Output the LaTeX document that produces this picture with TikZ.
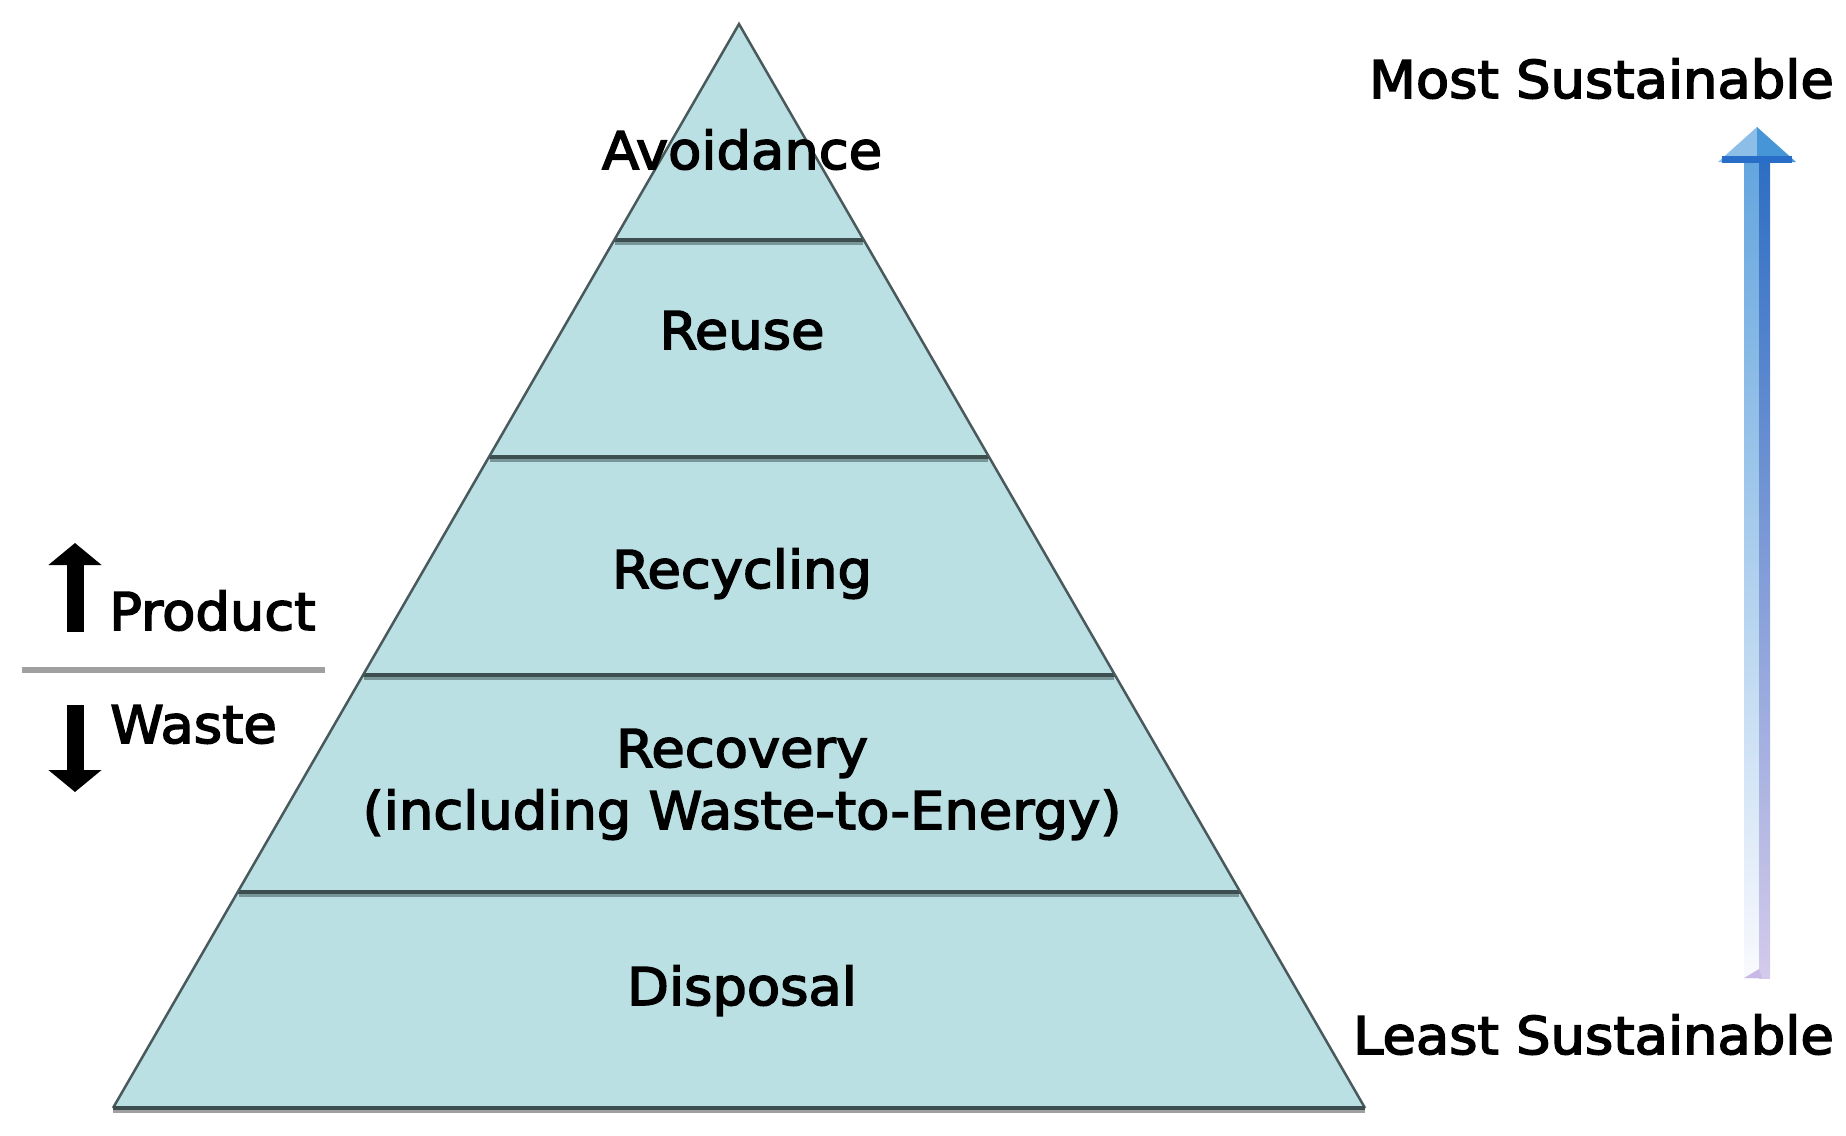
\documentclass[tikz,border=0pt]{standalone}
\usepackage{fontspec}
\setmainfont{DejaVu Sans}[FakeStretch=1.045,FakeBold=3]
\usetikzlibrary{calc,arrows.meta}
\definecolor{layerfill}{RGB}{187,224,227}
\definecolor{edgecol}{RGB}{74,90,92}
\definecolor{sepdark}{RGB}{60,78,80}
\definecolor{sepshadow}{RGB}{120,150,152}
\definecolor{divgray}{RGB}{160,160,160}
\definecolor{bluetopL}{RGB}{100,165,222}
\definecolor{bluemidL}{RGB}{175,208,236}
\definecolor{bluebotL}{RGB}{249,250,253}
\definecolor{bluetopR}{RGB}{45,110,195}
\definecolor{bluemidR}{RGB}{135,160,215}
\definecolor{bluebotR}{RGB}{212,202,236}
\definecolor{headL}{RGB}{140,190,232}
\definecolor{headR}{RGB}{70,150,215}
\definecolor{headband}{RGB}{40,110,200}
\definecolor{footcol}{RGB}{200,185,230}
\begin{document}
\begin{tikzpicture}[x=1pt,y=-1pt,
  lbl/.style={inner sep=0pt,font=\fontsize{52}{62}\selectfont,text=black},
  sepline/.style={draw=sepdark,line width=4pt},
  sepshade/.style={draw=sepshadow,line width=3pt},
  blackarrow/.style={draw=black,line width=17pt,-{Triangle[length=22pt,width=52pt]}}]
\useasboundingbox (0,0) rectangle (1846,1135);
% pyramid geometry
\coordinate (apex) at (739,24);
\coordinate (bl) at (113,1108);
\coordinate (br) at (1365,1108);
\foreach \t/\n in {0.1993/a,0.3994/b,0.6006/c,0.8007/d}{
  \coordinate (L\n) at ($(apex)!\t!(bl)$);
  \coordinate (R\n) at ($(apex)!\t!(br)$);
}
\fill[layerfill] (apex) -- (bl) -- (br) -- cycle;
% separator lines
\foreach \n in {a,b,c,d}{
  \draw[sepshade] ($(L\n)+(1,3.5)$) -- ($(R\n)+(-1,3.5)$);
  \draw[sepline] (L\n) -- (R\n);
}
% edges
\draw[edgecol,line width=2.5pt,line join=miter] (bl) -- (apex) -- (br);
\draw[divgray,line width=3pt] ($(bl)+(0,3)$) -- ($(br)+(0,3)$);
\draw[sepline] (bl) -- (br);
% pyramid labels
\node[lbl,anchor=base] (avoid) at (742,169) {Avoidance};
\node[lbl,anchor=base] (reuse) at (742,349) {Reuse};
\node[lbl,anchor=base] (recyc) at (742,588) {Recycling};
\node[lbl,anchor=base] (recov) at (742,767) {Recovery};
\node[lbl,anchor=base] (recovb) at (742,829) {(including Waste-to-Energy)};
\node[lbl,anchor=base] (disp) at (742,1005) {Disposal};
% right labels
\node[lbl,anchor=base east] (most) at (1834,98) {Most Sustainable};
\node[lbl,anchor=base east] (least) at (1834,1054) {Least Sustainable};
% blue gradient arrow
\shade[top color=bluetopL,middle color=bluemidL,bottom color=bluebotL] (1744,160) rectangle (1759,978);
\shade[top color=bluetopR,middle color=bluemidR,bottom color=bluebotR] (1759,160) rectangle (1770,978);
\fill[headL] (1718,162) -- (1757,127) -- (1757,162) -- cycle;
\fill[headR] (1757,127) -- (1796,162) -- (1757,162) -- cycle;
\fill[headband] (1722,156) rectangle (1792,163);
\fill[footcol] (1744,978) -- (1759,969) -- (1762,978) -- cycle;
% product / waste
\coordinate (pbot) at (75,632);
\coordinate (ptop) at (75,543);
\coordinate (wtop) at (75,705);
\coordinate (wbot) at (75,792);
\draw[blackarrow] (pbot) -- (ptop);
\draw[blackarrow] (wtop) -- (wbot);
\node[lbl,anchor=base west] (product) at (109,630) {Product};
\node[lbl,anchor=base west] (waste) at (110,743) {Waste};
\coordinate (divl) at (22,670);
\coordinate (divr) at (325,670);
\draw[divgray,line width=6pt] (divl) -- (divr);
\end{tikzpicture}
\end{document}
